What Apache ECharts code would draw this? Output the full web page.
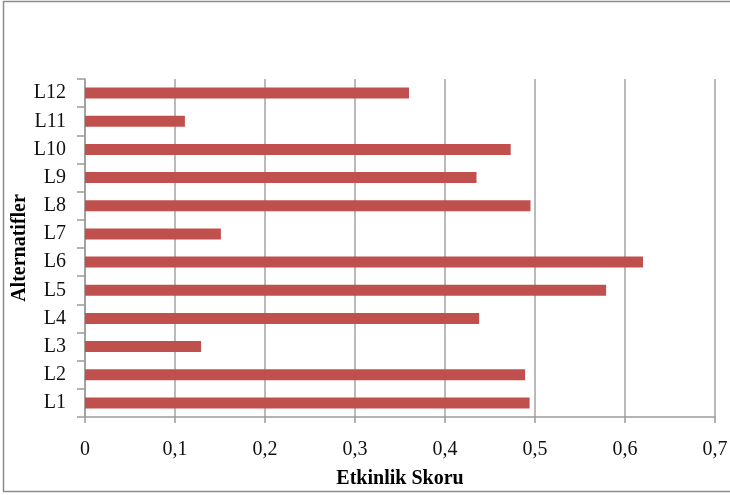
<!DOCTYPE html>
<html>
<head>
<meta charset="utf-8">
<script src="https://cdn.jsdelivr.net/npm/echarts@6/dist/echarts.min.js"></script>
<style>
html,body{margin:0;padding:0;background:#fff;}
#chart{width:730px;height:495px;}
</style>
</head>
<body>
<div id="chart"></div>
<script>
const categories = ['L1','L2','L3','L4','L5','L6','L7','L8','L9','L10','L11','L12'];
const scores = [0.494, 0.489, 0.129, 0.438, 0.579, 0.620, 0.151, 0.495, 0.435, 0.473, 0.111, 0.360];
const xTitle = 'Etkinlik Skoru';
const yTitle = 'Alternatifler';

const chart = echarts.init(document.getElementById('chart'), null, {renderer:'canvas'});
const font = '"Liberation Serif", "Times New Roman", serif';
chart.setOption({
  animation: false,
  backgroundColor: '#ffffff',
  graphic: [{
    type: 'rect',
    shape: {x: 3.5, y: 1.5, width: 760, height: 490},
    style: {fill: 'none', stroke: '#8c8c8c', lineWidth: 1.5},
    silent: true
  }],
  grid: {left: 85, right: 15, top: 79, bottom: 78, containLabel: false, outerBoundsMode: 'none'},
  xAxis: {
    type: 'value',
    min: 0, max: 0.7, interval: 0.1,
    name: xTitle,
    nameLocation: 'middle',
    nameGap: 52,
    nameMoveOverlap: false,
    nameTextStyle: {fontFamily: font, fontSize: 20, fontWeight: 'bold', color: '#000'},
    axisLine: {show: true, lineStyle: {color: '#9a9a9a', width: 1.5}},
    axisTick: {show: true, length: 6, lineStyle: {color: '#9a9a9a', width: 1.5}},
    axisLabel: {
      fontFamily: font, fontSize: 20, color: '#111', margin: 23,
      formatter: v => v === 0 ? '0' : String(Math.round(v*10)/10).replace('.', ',')
    },
    splitLine: {show: true, lineStyle: {color: '#a3a3a3', width: 1.5}}
  },
  yAxis: {
    type: 'category',
    data: categories,
    name: yTitle,
    nameLocation: 'middle',
    nameGap: 55,
    nameRotate: 90,
    nameMoveOverlap: false,
    nameTextStyle: {fontFamily: font, fontSize: 20, fontWeight: 'bold', color: '#000'},
    axisLine: {show: true, lineStyle: {color: '#9a9a9a', width: 1.5}},
    axisTick: {show: true, length: 8, alignWithLabel: false, lineStyle: {color: '#9a9a9a', width: 1.5}},
    axisLabel: {fontFamily: font, fontSize: 20, color: '#111', margin: 19},
    splitLine: {show: false}
  },
  series: [{
    type: 'bar',
    data: scores,
    barWidth: 11,
    itemStyle: {color: '#C0504D'}
  }]
});
</script>
</body>
</html>
